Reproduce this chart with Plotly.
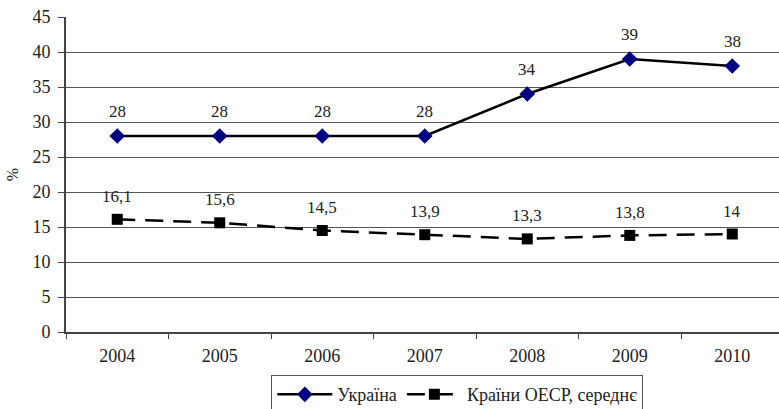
import plotly.graph_objects as go

years = ["2004", "2005", "2006", "2007", "2008", "2009", "2010"]
ukraine = [28, 28, 28, 28, 34, 39, 38]
oecd = [16.1, 15.6, 14.5, 13.9, 13.3, 13.8, 14]
ukraine_labels = ["28", "28", "28", "28", "34", "39", "38"]
oecd_labels = ["16,1", "15,6", "14,5", "13,9", "13,3", "13,8", "14"]
y_ticks = [0, 5, 10, 15, 20, 25, 30, 35, 40, 45]

FONT = "Liberation Serif"

fig = go.Figure()
fig.add_trace(go.Scatter(
    x=years, y=ukraine, name="Україна", mode="lines+markers",
    line=dict(color="black", width=2.5),
    marker=dict(symbol="diamond", size=12, color="#000080"),
))
fig.add_trace(go.Scatter(
    x=years, y=oecd, name="Країни ОЕСР, середнє", mode="lines+markers",
    line=dict(color="black", width=2.5, dash="18px,10px"),
    marker=dict(symbol="square", size=11, color="black"),
))

for i, (y, t) in enumerate(zip(ukraine, ukraine_labels)):
    fig.add_annotation(x=i, y=y, xref="x", yref="y", text=t, showarrow=False, yshift=25,
                       font=dict(family=FONT, size=17, color="#222"))
for i, (y, t) in enumerate(zip(oecd, oecd_labels)):
    fig.add_annotation(x=i, y=y, xref="x", yref="y", text=t, showarrow=False, yshift=23,
                       font=dict(family=FONT, size=17, color="#222"))

fig.update_layout(
    width=779, height=409,
    margin=dict(l=66, r=0, t=17, b=77, autoexpand=False),
    paper_bgcolor="white", plot_bgcolor="white",
    font=dict(family=FONT, size=18, color="#222"),
    showlegend=True,
    legend=dict(orientation="h", x=0.288, xanchor="left", y=-0.137, yanchor="top",
                bordercolor="#555", borderwidth=1, font=dict(family=FONT, size=18, color="#222"),
                itemwidth=55, tracegroupgap=0),
    xaxis=dict(type="category", range=[-0.5, 6.456], showline=True, linecolor="#444", linewidth=2,
               ticks="outside", ticklen=5, tickcolor="#444", tickson="boundaries",
               showgrid=False, zeroline=False, ticklabelstandoff=6,
               tickfont=dict(family=FONT, size=18, color="#222")),
    yaxis=dict(range=[0, 45], tickvals=y_ticks, showline=True, linecolor="#444", linewidth=2,
               ticks="outside", ticklen=6, tickcolor="#444",
               showgrid=True, gridcolor="#555", gridwidth=1, zeroline=False,
               tickfont=dict(family=FONT, size=18, color="#222"), ticklabelstandoff=4,
               title=dict(text="%", font=dict(family=FONT, size=16), standoff=10)),
)

fig.write_html("out.html")
